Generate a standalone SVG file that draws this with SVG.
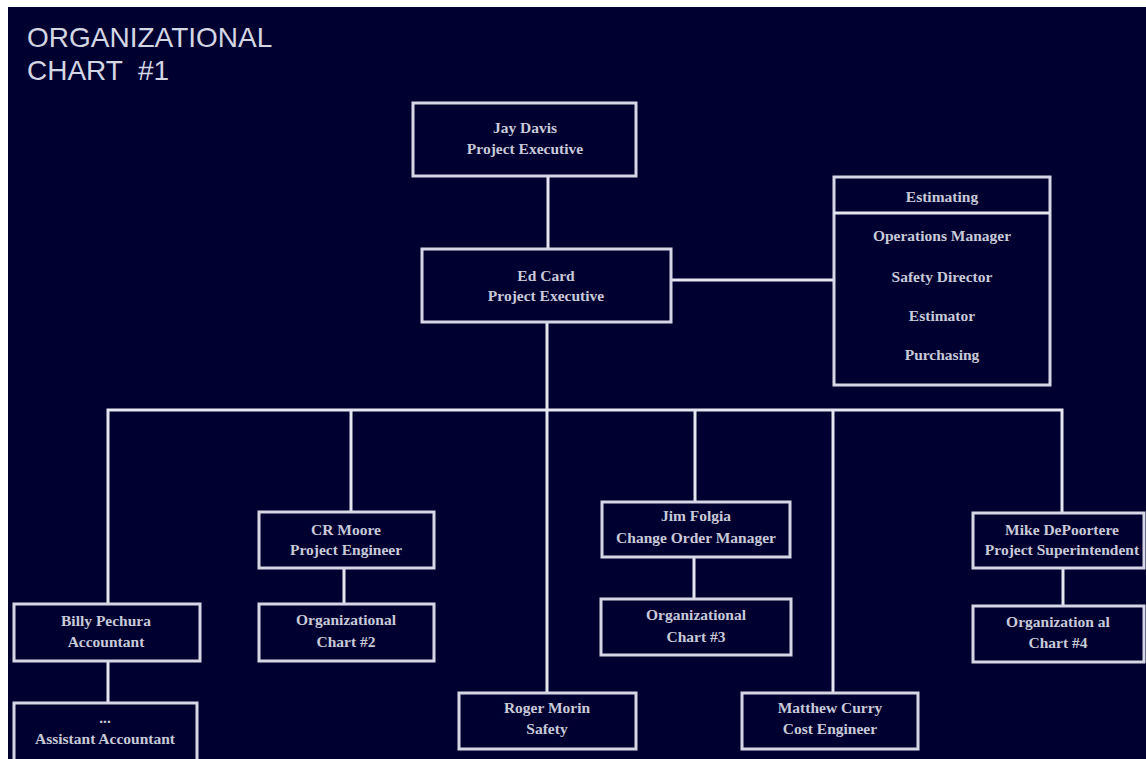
<svg xmlns="http://www.w3.org/2000/svg" width="1146" height="759" viewBox="0 0 1146 759">
<style>
.box{fill:#000030;stroke:#d6d6e4;stroke-width:3}
.ln{fill:none;stroke:#e6e6f0;stroke-width:3}
.t{font-family:"Liberation Serif","Times New Roman",serif;font-size:15.5px;font-weight:bold;fill:#c8cad8;text-anchor:middle}
.title{font-family:"Liberation Sans",Arial,sans-serif;font-size:28px;fill:#d4d6e4}
</style>
<rect x="0" y="0" width="1146" height="759" fill="#ffffff"/>
<rect x="8" y="7" width="1138" height="752" fill="#000030"/>
<g id="title">
<text class="title" x="27" y="47">ORGANIZATIONAL</text>
<text class="title" x="27" y="80" xml:space="preserve">CHART  #1</text>
</g>
<g id="connectors">
<line class="ln" x1="548" y1="177" x2="548" y2="249"/>
<line class="ln" x1="671" y1="280" x2="834" y2="280"/>
<line class="ln" x1="547" y1="322" x2="547" y2="693"/>
<polyline class="ln" points="108,604 108,410 1062,410 1062,513"/>
<line class="ln" x1="351" y1="410" x2="351" y2="512"/>
<line class="ln" x1="695" y1="410" x2="695" y2="502"/>
<line class="ln" x1="833" y1="410" x2="833" y2="693"/>
<line class="ln" x1="344" y1="568" x2="344" y2="604"/>
<line class="ln" x1="694" y1="557" x2="694" y2="599"/>
<line class="ln" x1="1063" y1="568" x2="1063" y2="606"/>
<line class="ln" x1="108" y1="661" x2="108" y2="703"/>
</g>
<g id="jay">
<rect class="box" x="413" y="103" width="223" height="73"/>
<text class="t" x="525" y="133">Jay Davis</text>
<text class="t" x="525" y="154">Project Executive</text>
</g>
<g id="ed">
<rect class="box" x="422" y="249" width="249" height="73"/>
<text class="t" x="546" y="281">Ed Card</text>
<text class="t" x="546" y="301">Project Executive</text>
</g>
<g id="estimating">
<rect class="box" x="834" y="177" width="216" height="208"/>
<line class="ln" x1="834" y1="213" x2="1050" y2="213"/>
<text class="t" x="942" y="202">Estimating</text>
<text class="t" x="942" y="241">Operations Manager</text>
<text class="t" x="942" y="282">Safety Director</text>
<text class="t" x="942" y="321">Estimator</text>
<text class="t" x="942" y="360">Purchasing</text>
</g>
<g id="billy">
<rect class="box" x="14" y="604" width="186" height="57"/>
<text class="t" x="106" y="626">Billy Pechura</text>
<text class="t" x="106" y="647">Accountant</text>
</g>
<g id="assistant">
<rect class="box" x="14" y="703" width="183" height="58"/>
<text class="t" x="105" y="723">...</text>
<text class="t" x="105" y="744">Assistant Accountant</text>
</g>
<g id="crmoore">
<rect class="box" x="259" y="512" width="175" height="56"/>
<text class="t" x="346" y="535">CR Moore</text>
<text class="t" x="346" y="555">Project Engineer</text>
</g>
<g id="org2">
<rect class="box" x="259" y="604" width="175" height="57"/>
<text class="t" x="346" y="625">Organizational</text>
<text class="t" x="346" y="647">Chart #2</text>
</g>
<g id="roger">
<rect class="box" x="459" y="693" width="177" height="56"/>
<text class="t" x="547" y="713">Roger Morin</text>
<text class="t" x="547" y="734">Safety</text>
</g>
<g id="jim">
<rect class="box" x="602" y="502" width="188" height="55"/>
<text class="t" x="696" y="521">Jim Folgia</text>
<text class="t" x="696" y="543">Change Order Manager</text>
</g>
<g id="org3">
<rect class="box" x="601" y="599" width="190" height="56"/>
<text class="t" x="696" y="620">Organizational</text>
<text class="t" x="696" y="642">Chart #3</text>
</g>
<g id="matthew">
<rect class="box" x="742" y="693" width="176" height="56"/>
<text class="t" x="830" y="713">Matthew Curry</text>
<text class="t" x="830" y="734">Cost Engineer</text>
</g>
<g id="mike">
<rect class="box" x="973" y="513" width="171" height="55"/>
<text class="t" x="1062" y="535">Mike DePoortere</text>
<text class="t" x="1062" y="555">Project Superintendent</text>
</g>
<g id="org4">
<rect class="box" x="973" y="606" width="171" height="56"/>
<text class="t" x="1058" y="627">Organization al</text>
<text class="t" x="1058" y="648">Chart #4</text>
</g>
</svg>
